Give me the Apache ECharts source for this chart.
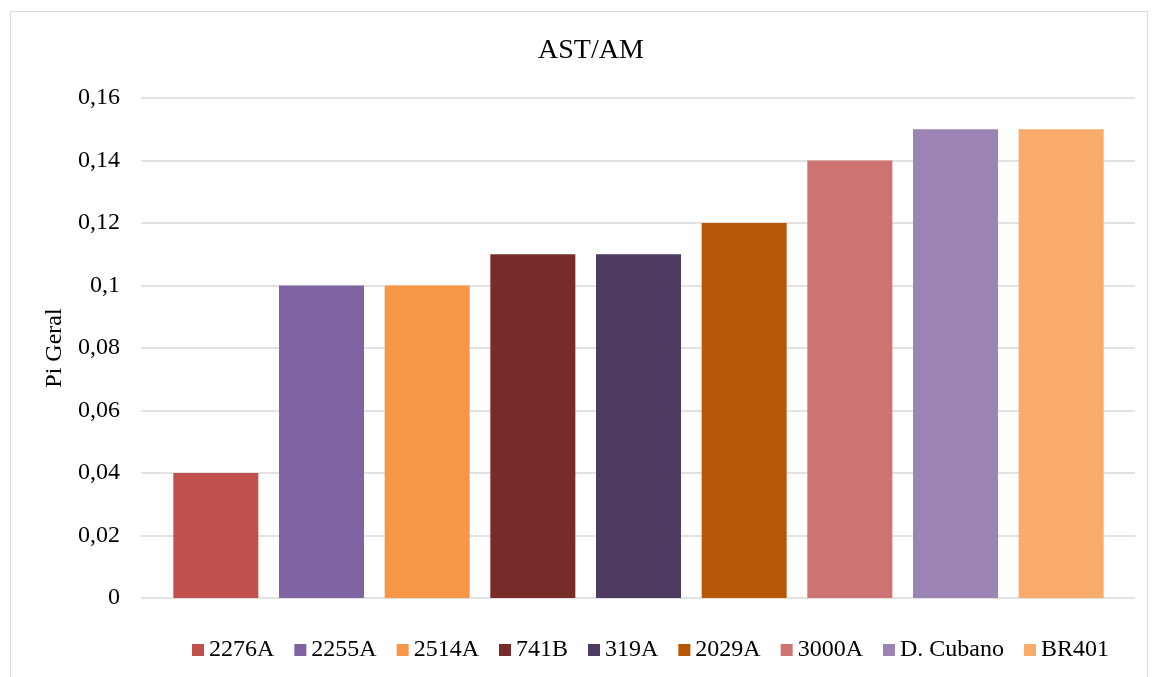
<!DOCTYPE html>
<html lang="pt">
<head>
<meta charset="UTF-8" />
<title>AST/AM</title>
<style>
  * { margin: 0; padding: 0; box-sizing: border-box; }
  html, body { width: 1152px; height: 677px; background: #fff; overflow: hidden; }
  #chart { width: 1152px; height: 677px; }
</style>
</head>
<body>
<div id="chart"></div>
<script src="https://cdn.jsdelivr.net/npm/echarts@6/dist/echarts.min.js"></script>
<script>
  // dados
  var categories = ['2276A', '2255A', '2514A', '741B', '319A', '2029A', '3000A', 'D. Cubano', 'BR401'];
  var values = [0.04, 0.10, 0.10, 0.11, 0.11, 0.12, 0.14, 0.15, 0.15];
  var colors = ['#C0504D', '#8064A2', '#F79646', '#772C2A', '#4D3B62', '#B65708', '#CD7371', '#9B83B4', '#F9AB6B'];
  var yMin = 0, yMax = 0.16, yStep = 0.02;

  var font = '"Liberation Serif", "Times New Roman", serif';

  // uma série por categoria para que a legenda mostre cada cultivar
  var series = categories.map(function (name, i) {
    return {
      name: name,
      type: 'bar',
      stack: 'all',
      xAxisIndex: 1,
      yAxisIndex: 1,
      barWidth: 85,
      itemStyle: { color: colors[i] },
      data: categories.map(function (c, j) { return j === i ? values[i] : '-'; })
    };
  });

  var chart = echarts.init(document.getElementById('chart'));
  chart.setOption({
    animation: false,
    textStyle: { fontFamily: font },
    title: {
      text: 'AST/AM',
      left: 533,
      top: 32,
      textStyle: { fontFamily: font, fontSize: 28, fontWeight: 'normal', color: '#000' }
    },
    graphic: [{
      type: 'rect',
      shape: { x: 10.5, y: 11.5, width: 1137, height: 700 },
      style: { fill: 'none', stroke: '#d9d9d9', lineWidth: 1 },
      silent: true
    }],
    legend: {
      top: 638,
      left: 192,
      padding: 0,
      itemWidth: 12,
      itemHeight: 12,
      itemGap: 20,
      icon: 'rect',
      textStyle: { fontFamily: font, fontSize: 24, color: '#000' },
      data: categories
    },
    // grid 0: linhas de grade e rótulos; grid 1: barras (área interna do Excel)
    grid: [
      { left: 141, right: 17, top: 98, bottom: 79 },
      { left: 163, right: 38, top: 98, bottom: 79 }
    ],
    xAxis: [
      { type: 'value', gridIndex: 0, show: false, min: 0, max: 1 },
      {
        type: 'category',
        gridIndex: 1,
        data: categories,
        axisTick: { show: false },
        axisLabel: { show: false },
        axisLine: { show: false }
      }
    ],
    yAxis: [
      {
        type: 'value',
        gridIndex: 0,
        min: yMin,
        max: yMax,
        interval: yStep,
        name: 'Pi Geral',
        nameLocation: 'middle',
        nameGap: 72,
        nameTextStyle: { fontFamily: font, fontSize: 24, color: '#000' },
        axisLine: { show: false },
        axisTick: { show: false },
        axisLabel: {
          fontFamily: font,
          fontSize: 24,
          color: '#000',
          margin: 21,
          formatter: function (v) { return String(+v.toFixed(2)).replace('.', ','); }
        },
        splitLine: { lineStyle: { color: '#d9d9d9', width: 1.5 } }
      },
      {
        type: 'value',
        gridIndex: 1,
        min: yMin,
        max: yMax,
        interval: yStep,
        show: false,
        splitLine: { show: false }
      }
    ],
    series: series
  });
</script>
</body>
</html>
